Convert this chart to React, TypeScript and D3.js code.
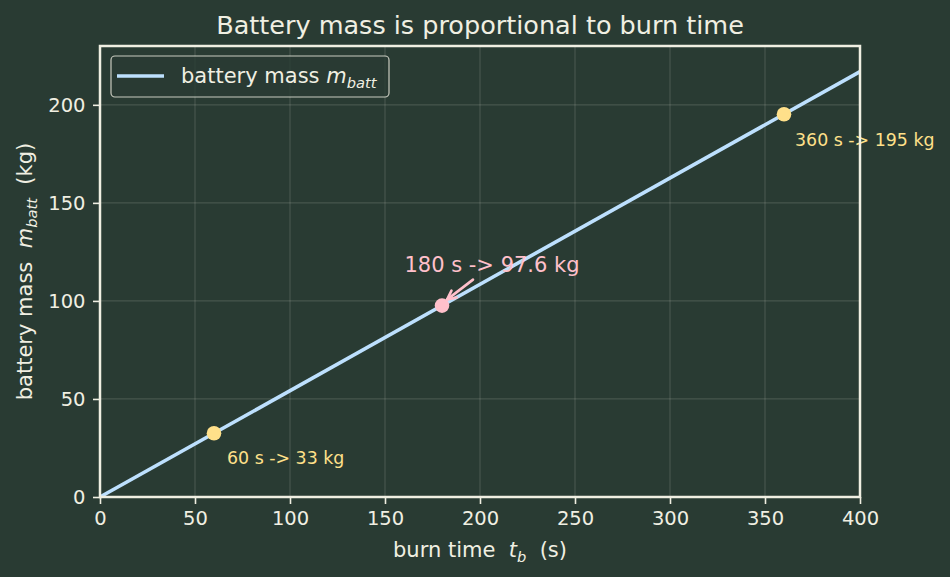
import React, { useEffect, useRef } from "react";
import * as d3 from "d3";

// line endpoints: burn time (s) vs battery mass (kg)
const lineTimes = [0, 400];
const lineMasses = [0, 216.9];

// highlighted points
const markTimes = [60, 180, 360];
const markMasses = [32.5, 97.6, 195.2];
const markLabels = ["60 s -> 33 kg", "180 s -> 97.6 kg", "360 s -> 195 kg"];

const xTicks = [0, 50, 100, 150, 200, 250, 300, 350, 400];
const yTicks = [0, 50, 100, 150, 200];

export default function App() {
  const ref = useRef<SVGSVGElement>(null);
  const width = 950;
  const height = 577;

  useEffect(() => {
    const svg = d3.select(ref.current);
    const margin = { top: 46, right: 90, bottom: 80, left: 100 };
    const bg = "#293b33";
    const fg = "#f0efe2";
    const lineColor = "#bde0fe";
    const font = "'DejaVu Sans', sans-serif";

    svg.append("rect").attr("width", width).attr("height", height).attr("fill", bg);

    const x = d3.scaleLinear().domain([0, 400]).range([margin.left, width - margin.right]);
    const y = d3.scaleLinear().domain([0, 230]).range([height - margin.bottom, margin.top]);

    // grid
    const grid = svg.append("g").attr("stroke", fg).attr("stroke-opacity", 0.15).attr("stroke-width", 1.2);
    grid.selectAll("line.v").data(xTicks).join("line")
      .attr("x1", d => x(d)).attr("x2", d => x(d))
      .attr("y1", y(0)).attr("y2", y(230));
    grid.selectAll("line.h").data(yTicks).join("line")
      .attr("x1", x(0)).attr("x2", x(400))
      .attr("y1", d => y(d)).attr("y2", d => y(d));

    // line
    const pts = lineTimes.map((t, i) => [t, lineMasses[i]] as [number, number]);
    svg.append("path")
      .datum(pts)
      .attr("d", d3.line<[number, number]>().x(d => x(d[0])).y(d => y(d[1])))
      .attr("fill", "none")
      .attr("stroke", lineColor)
      .attr("stroke-width", 3.6);

    const markColors = ["#ffe08a", "#ffc0cb", "#ffe08a"];
    svg.append("g").selectAll("circle").data(markTimes).join("circle")
      .attr("cx", d => x(d))
      .attr("cy", (d, i) => y(markMasses[i]))
      .attr("r", 7.3)
      .attr("fill", (d, i) => markColors[i]);

    // annotations
    svg.append("text").attr("x", x(60) + 13).attr("y", y(markMasses[0]) + 31)
      .attr("fill", "#ffe08a").attr("font-size", 17.4).attr("font-family", font)
      .text(markLabels[0]);
    svg.append("text").attr("x", x(360) + 11).attr("y", y(markMasses[2]) + 32)
      .attr("fill", "#ffe08a").attr("font-size", 17.4).attr("font-family", font)
      .text(markLabels[2]);
    svg.append("text").attr("x", x(180) + 50).attr("y", y(markMasses[1]) - 34)
      .attr("fill", "#ffc0cb").attr("font-size", 21).attr("font-family", font)
      .attr("text-anchor", "middle")
      .text(markLabels[1]);

    // arrow
    const ax0 = x(180) + 31, ay0 = y(markMasses[1]) - 26;
    const ax1 = x(180) + 5, ay1 = y(markMasses[1]) - 6;
    svg.append("line").attr("x1", ax0).attr("y1", ay0).attr("x2", ax1).attr("y2", ay1)
      .attr("stroke", "#ffc0cb").attr("stroke-width", 2.6).attr("stroke-linecap", "round");
    const ang = Math.atan2(ay1 - ay0, ax1 - ax0);
    const hl = 10;
    const head = [
      [ax1 - hl * Math.cos(ang - 0.45), ay1 - hl * Math.sin(ang - 0.45)],
      [ax1, ay1],
      [ax1 - hl * Math.cos(ang + 0.45), ay1 - hl * Math.sin(ang + 0.45)],
    ];
    svg.append("path").attr("d", d3.line()(head as [number, number][]))
      .attr("fill", "none").attr("stroke", "#ffc0cb").attr("stroke-width", 2.6)
      .attr("stroke-linecap", "round");

    // frame
    svg.append("rect")
      .attr("x", x(0)).attr("y", y(230))
      .attr("width", x(400) - x(0)).attr("height", y(0) - y(230))
      .attr("fill", "none").attr("stroke", fg).attr("stroke-width", 2.5);

    // axes
    const xAxis = svg.append("g").attr("transform", `translate(0,${y(0)})`)
      .call(d3.axisBottom(x).tickValues(xTicks).tickSize(7).tickPadding(7).tickFormat(d3.format("d")));
    const yAxis = svg.append("g").attr("transform", `translate(${x(0)},0)`)
      .call(d3.axisLeft(y).tickValues(yTicks).tickSize(7).tickPadding(7.5).tickFormat(d3.format("d")));
    [xAxis, yAxis].forEach(g => {
      g.select(".domain").remove();
      g.selectAll(".tick line").attr("stroke", fg).attr("stroke-width", 1.6);
      g.selectAll(".tick text").attr("fill", fg).attr("font-size", 19.5).attr("font-family", font);
    });

    // legend
    const lg = svg.append("g");
    lg.append("rect").attr("x", 111).attr("y", 56).attr("width", 278).attr("height", 41).attr("rx", 4)
      .attr("fill", bg).attr("fill-opacity", 0.8).attr("stroke", fg).attr("stroke-opacity", 0.8).attr("stroke-width", 1.2);
    lg.append("line").attr("x1", 117).attr("x2", 164).attr("y1", 76).attr("y2", 76)
      .attr("stroke", lineColor).attr("stroke-width", 3.6);
    const lt = lg.append("text").attr("x", 181).attr("y", 83)
      .attr("fill", fg).attr("font-size", 21).attr("font-family", font)
      .style("white-space", "pre");
    lt.append("tspan").text("battery mass ");
    lt.append("tspan").attr("font-style", "italic").text("m");
    lt.append("tspan").attr("font-style", "italic").attr("font-size", 14.7).attr("dy", 5).text("batt");

    // title
    svg.append("text").attr("x", (x(0) + x(400)) / 2).attr("y", 34)
      .attr("text-anchor", "middle").attr("fill", fg).attr("font-size", 25.5).attr("font-family", font)
      .text("Battery mass is proportional to burn time");

    // x label
    const xl = svg.append("text").attr("x", (x(0) + x(400)) / 2).attr("y", 557)
      .attr("text-anchor", "middle").attr("fill", fg).attr("font-size", 21).attr("font-family", font)
      .style("white-space", "pre");
    xl.append("tspan").text("burn time  ");
    xl.append("tspan").attr("font-style", "italic").text("t");
    xl.append("tspan").attr("font-style", "italic").attr("font-size", 14.7).attr("dy", 5).text("b");
    xl.append("tspan").attr("dy", -5).text("  (s)");

    // y label
    const yl = svg.append("text")
      .attr("transform", `translate(32,${(y(0) + y(230)) / 2}) rotate(-90)`)
      .attr("text-anchor", "middle").attr("fill", fg).attr("font-size", 21).attr("font-family", font)
      .style("white-space", "pre");
    yl.append("tspan").text("battery mass  ");
    yl.append("tspan").attr("font-style", "italic").text("m");
    yl.append("tspan").attr("font-style", "italic").attr("font-size", 14.7).attr("dy", 5).text("batt");
    yl.append("tspan").attr("dy", -5).text("  (kg)");

    return () => {
      svg.html("");
    };
  }, []);

  return (
    <svg ref={ref} width={width} height={height} style={{ display: "block", position: "absolute", left: 0, top: 0 }} />
  );
}
